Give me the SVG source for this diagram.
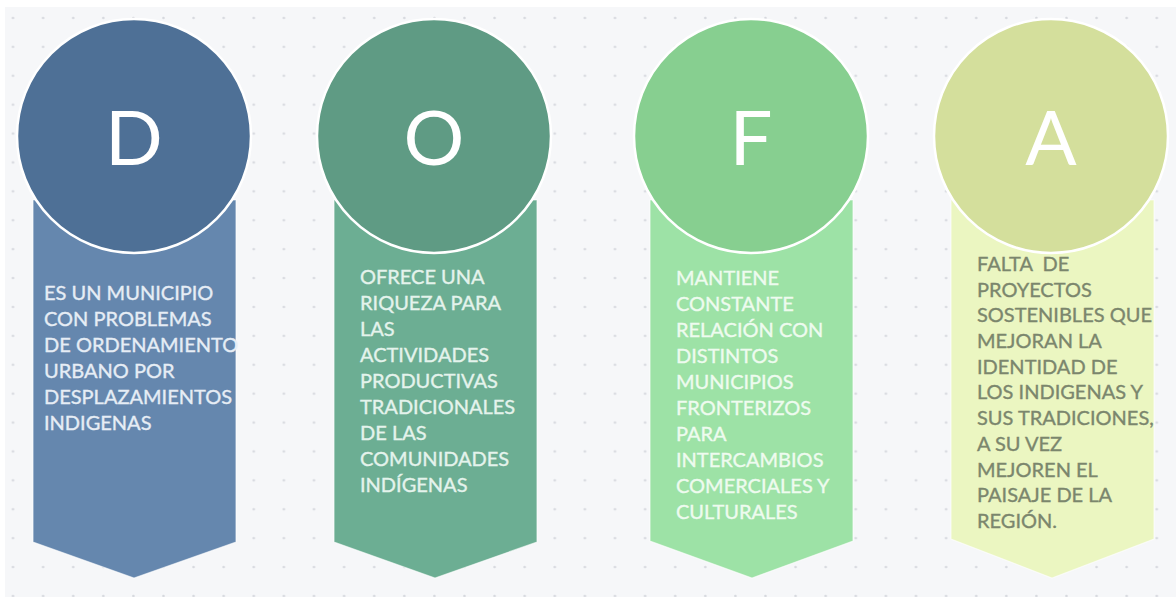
<svg xmlns="http://www.w3.org/2000/svg" width="1176" height="597" viewBox="0 0 1176 597">
<defs>
<pattern id="dots" x="-2" y="3" width="30.1" height="28.9" patternUnits="userSpaceOnUse">
<circle cx="15" cy="15" r="1.3" fill="#d6d8de"/>
</pattern>
</defs>
<style>
.letter{font-family:Lato,"Liberation Sans",sans-serif;font-weight:400;font-size:76px;fill:#ffffff;text-anchor:middle}
.body{font-family:Lato,"Liberation Sans",sans-serif;font-size:20px;stroke-width:0.35}
.band{stroke:#ffffff;stroke-opacity:0.6;stroke-width:1.2}
.disc{stroke:#ffffff;stroke-width:2.5}
</style>
<rect x="0" y="0" width="1176" height="597" fill="#ffffff"/>
<rect x="5" y="7" width="1171" height="590" fill="#f6f7f9"/>
<rect x="5" y="7" width="1171" height="590" fill="url(#dots)"/>

<g id="node-D">
<polygon class="band" points="33,200 236,200 236,542 134,578 33,542" fill="#6587ae"/>
<circle class="disc" cx="134" cy="136" r="117" fill="#4e7096"/>
<text class="letter" x="134" y="165">D</text>
<text class="body" fill="#e6edf5" stroke="#e6edf5" x="44">
<tspan x="44" y="300">ES UN MUNICIPIO</tspan>
<tspan x="44" y="326">CON PROBLEMAS</tspan>
<tspan x="44" y="352">DE ORDENAMIENTO</tspan>
<tspan x="44" y="378">URBANO POR</tspan>
<tspan x="44" y="404">DESPLAZAMIENTOS</tspan>
<tspan x="44" y="430">INDIGENAS</tspan>
</text>
</g>

<g id="node-O">
<polygon class="band" points="334,200 537,200 537,542 435,578 334,542" fill="#6cae93"/>
<circle class="disc" cx="434" cy="136" r="117" fill="#5f9b84"/>
<text class="letter" x="434" y="165">O</text>
<text class="body" fill="#e4f3ec" stroke="#e4f3ec" x="360">
<tspan x="360" y="284">OFRECE UNA</tspan>
<tspan x="360" y="310">RIQUEZA PARA</tspan>
<tspan x="360" y="336">LAS</tspan>
<tspan x="360" y="362">ACTIVIDADES</tspan>
<tspan x="360" y="388">PRODUCTIVAS</tspan>
<tspan x="360" y="414">TRADICIONALES</tspan>
<tspan x="360" y="440">DE LAS</tspan>
<tspan x="360" y="466">COMUNIDADES</tspan>
<tspan x="360" y="492">INDÍGENAS</tspan>
</text>
</g>

<g id="node-F">
<polygon class="band" points="650,200 853,200 853,541 752,578 650,541" fill="#9de2a6"/>
<circle class="disc" cx="751" cy="136" r="117" fill="#87cf90"/>
<text class="letter" x="751" y="165">F</text>
<text class="body" fill="#eefbef" stroke="#eefbef" x="676">
<tspan x="676" y="285">MANTIENE</tspan>
<tspan x="676" y="311">CONSTANTE</tspan>
<tspan x="676" y="337">RELACIÓN CON</tspan>
<tspan x="676" y="363">DISTINTOS</tspan>
<tspan x="676" y="389">MUNICIPIOS</tspan>
<tspan x="676" y="415">FRONTERIZOS</tspan>
<tspan x="676" y="441">PARA</tspan>
<tspan x="676" y="467">INTERCAMBIOS</tspan>
<tspan x="676" y="493">COMERCIALES Y</tspan>
<tspan x="676" y="519">CULTURALES</tspan>
</text>
</g>

<g id="node-A">
<polygon class="band" points="951,200 1154,200 1154,539 1052,578 951,539" fill="#ebf6c1"/>
<circle class="disc" cx="1051" cy="136" r="117" fill="#d4df9c"/>
<text class="letter" x="1051" y="165">A</text>
<text class="body" fill="#7b866d" stroke="#7b866d" x="977" xml:space="preserve">
<tspan x="977" y="271">FALTA  DE</tspan>
<tspan x="977" y="297">PROYECTOS</tspan>
<tspan x="977" y="322">SOSTENIBLES QUE</tspan>
<tspan x="977" y="348">MEJORAN LA</tspan>
<tspan x="977" y="374">IDENTIDAD DE</tspan>
<tspan x="977" y="399">LOS INDIGENAS Y</tspan>
<tspan x="977" y="425">SUS TRADICIONES,</tspan>
<tspan x="977" y="451">A SU VEZ</tspan>
<tspan x="977" y="477">MEJOREN EL</tspan>
<tspan x="977" y="502">PAISAJE DE LA</tspan>
<tspan x="977" y="528">REGIÓN.</tspan>
</text>
</g>

<g id="connectors"/>
</svg>
